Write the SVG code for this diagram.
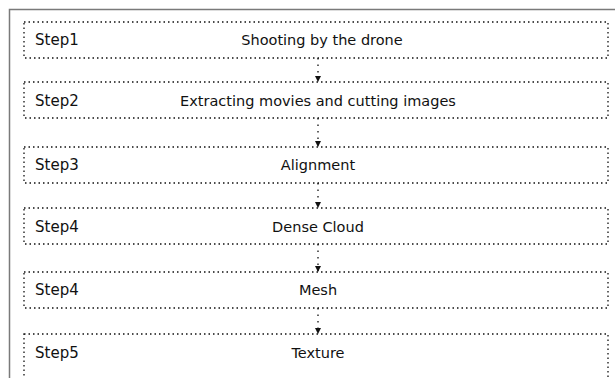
<svg xmlns="http://www.w3.org/2000/svg" width="615" height="378" viewBox="0 0 615 378">
<defs>
<marker id="ah" viewBox="0 0 6 6" refX="5" refY="3" markerWidth="5" markerHeight="5" orient="auto">
<path d="M0,0 L6,3 L0,6 z" fill="#111"/>
</marker>
<style>
.box{fill:none;stroke:#111;stroke-width:1.3;stroke-dasharray:1.5 3}
.lbl{font-family:"DejaVu Sans",Verdana,sans-serif;font-size:15px;fill:#111}
.ttl{font-family:"DejaVu Sans",Verdana,sans-serif;font-size:14.5px;fill:#111;text-anchor:middle}
.con{fill:none;stroke:#111;stroke-width:1.3;stroke-dasharray:1.5 5}
</style>
</defs>
<rect width="615" height="378" fill="#fff"/>
<path d="M9.5,378 V9.5 H615" fill="none" stroke="#7a7a7a" stroke-width="1.5"/>
<g id="connectors">
<line class="con" x1="318" y1="58" x2="318" y2="81" marker-end="url(#ah)"/>
<line class="con" x1="318" y1="118" x2="318" y2="146" marker-end="url(#ah)"/>
<line class="con" x1="318" y1="183" x2="318" y2="207" marker-end="url(#ah)"/>
<line class="con" x1="318" y1="244" x2="318" y2="271" marker-end="url(#ah)"/>
<line class="con" x1="318" y1="308" x2="318" y2="333" marker-end="url(#ah)"/>
</g>
<g id="step1">
<rect class="box" x="24" y="22" width="584" height="36"/>
<text class="lbl" x="35" y="45">Step1</text>
<text class="ttl" x="322" y="45">Shooting by the drone</text>
</g>
<g id="step2">
<rect class="box" x="24" y="82" width="584" height="36"/>
<text class="lbl" x="35" y="106">Step2</text>
<text class="ttl" x="318" y="106">Extracting movies and cutting images</text>
</g>
<g id="step3">
<rect class="box" x="24" y="147" width="584" height="36"/>
<text class="lbl" x="35" y="170">Step3</text>
<text class="ttl" x="318" y="170">Alignment</text>
</g>
<g id="step4">
<rect class="box" x="24" y="208" width="584" height="36"/>
<text class="lbl" x="35" y="232">Step4</text>
<text class="ttl" x="318" y="232">Dense Cloud</text>
</g>
<g id="step4b">
<rect class="box" x="24" y="272" width="584" height="36"/>
<text class="lbl" x="35" y="295">Step4</text>
<text class="ttl" x="318" y="295">Mesh</text>
</g>
<g id="step5">
<rect class="box" x="24" y="334" width="584" height="60"/>
<text class="lbl" x="35" y="358">Step5</text>
<text class="ttl" x="318" y="358">Texture</text>
</g>
</svg>
